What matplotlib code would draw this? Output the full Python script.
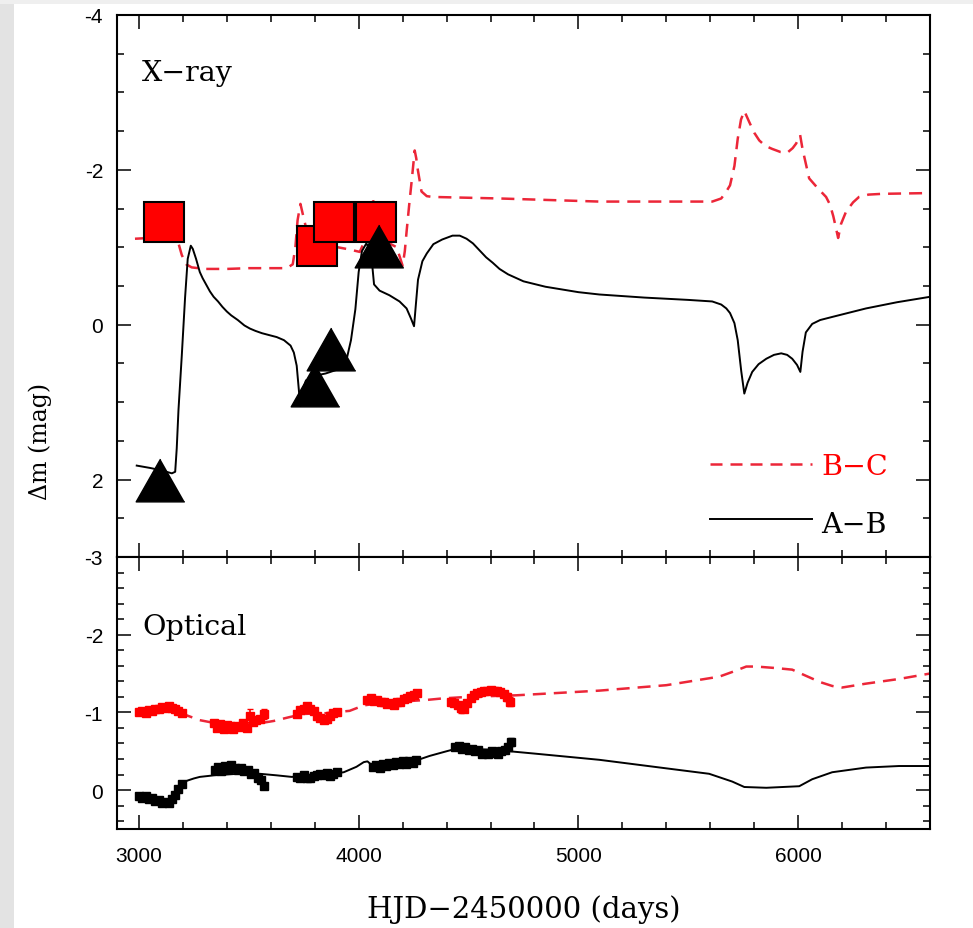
import matplotlib
matplotlib.use("Agg")
import matplotlib.pyplot as plt
from matplotlib.ticker import MultipleLocator
from matplotlib.patches import Rectangle

plt.rcParams['axes.unicode_minus'] = False
plt.rcParams['font.family'] = 'Liberation Sans'

# ---- X-ray panel: model curves (HJD-2450000, delta mag) ----
xr_ab_t = [2990, 3050, 3100, 3150, 3165, 3172, 3180, 3195, 3210, 3222, 3236, 3245,
           3260, 3277, 3290, 3323, 3340, 3360, 3380, 3400, 3420, 3450, 3480, 3505,
           3530, 3560, 3600, 3627, 3660, 3690, 3705, 3718, 3728, 3735, 3745, 3760,
           3800, 3850, 3914, 3945, 3965, 3985, 4000, 4015, 4035, 4055, 4062, 4070,
           4095, 4140, 4186, 4218, 4238, 4252, 4260, 4270, 4290, 4310, 4340, 4380,
           4427, 4460, 4491, 4520, 4550, 4580, 4610, 4641, 4680, 4750, 4850, 5000,
           5095, 5300, 5500, 5609, 5650, 5673, 5690, 5710, 5725, 5741, 5755, 5770,
           5791, 5820, 5855, 5890, 5923, 5950, 5973, 5995, 6010, 6020, 6035, 6064,
           6100, 6155, 6309, 6450, 6600]
xr_ab_m = [1.82, 1.85, 1.88, 1.92, 1.90, 1.60, 1.10, 0.40, -0.35, -0.85, -1.02, -0.98,
           -0.85, -0.68, -0.60, -0.43, -0.36, -0.30, -0.23, -0.17, -0.12, -0.06, 0.01, 0.05,
           0.08, 0.11, 0.14, 0.16, 0.20, 0.27, 0.36, 0.53, 0.85, 1.05, 0.85, 0.72,
           0.66, 0.63, 0.57, 0.45, 0.20, -0.20, -0.68, -0.95, -1.05, -0.95, -0.76, -0.52,
           -0.44, -0.38, -0.30, -0.21, -0.08, 0.02, -0.25, -0.58, -0.82, -0.92, -1.04, -1.10,
           -1.15, -1.15, -1.11, -1.05, -0.96, -0.87, -0.80, -0.72, -0.65, -0.56, -0.49, -0.42,
           -0.39, -0.35, -0.32, -0.30, -0.26, -0.21, -0.15, -0.02, 0.20, 0.60, 0.89, 0.75,
           0.61, 0.51, 0.44, 0.39, 0.37, 0.39, 0.44, 0.52, 0.61, 0.35, 0.10, -0.01,
           -0.06, -0.10, -0.21, -0.29, -0.36]

xr_bc_t = [2982, 3050, 3100, 3130, 3150, 3165, 3180, 3195, 3215, 3240, 3300, 3400,
           3500, 3600, 3673, 3700, 3712, 3722, 3735, 3748, 3765, 3790, 3830, 3905,
           3960, 4005, 4030, 4050, 4064, 4080, 4100, 4140, 4173, 4190, 4200, 4210,
           4218, 4230, 4241, 4255, 4262, 4268, 4286, 4310, 4336, 4641, 5095, 5609,
           5650, 5673, 5690, 5710, 5725, 5740, 5755, 5777, 5800, 5823, 5850, 5882,
           5920, 5950, 5975, 5991, 6009, 6018, 6027, 6050, 6090, 6127, 6145, 6160,
           6172, 6182, 6195, 6218, 6250, 6277, 6320, 6382, 6600]
xr_bc_m = [-1.11, -1.12, -1.20, -1.45, -1.60, -1.45, -1.05, -0.90, -0.78, -0.74, -0.72, -0.72,
           -0.73, -0.73, -0.73, -0.78, -1.00, -1.35, -1.56, -1.40, -1.20, -1.08, -1.02, -1.00,
           -0.97, -0.94, -1.10, -1.45, -1.63, -1.40, -1.15, -1.05, -1.00, -0.85, -0.76, -0.95,
           -1.20, -1.55, -1.85, -2.25, -2.15, -2.02, -1.72, -1.66, -1.65, -1.63, -1.59, -1.59,
           -1.63, -1.72, -1.80, -2.05, -2.40, -2.65, -2.76, -2.62, -2.48, -2.38, -2.31, -2.27,
           -2.23, -2.22, -2.28, -2.34, -2.45, -2.30, -2.18, -1.89, -1.76, -1.65, -1.55, -1.40,
           -1.25, -1.12, -1.30, -1.46, -1.58, -1.65, -1.68, -1.69, -1.70]

# X-ray measurements
sq_t = [3116, 3811, 3889, 4077]
sq_m = [-1.32, -1.01, -1.32, -1.32]
tri_t = [3098, 3800, 3875, 4091]
tri_m = [2.00, 0.78, 0.32, -1.01]

# ---- Optical panel: model curves ----
op_bc_t = [3000, 3100, 3200, 3277, 3350, 3450, 3550, 3614, 3686, 3750, 3850, 3959,
           4023, 4100, 4200, 4309, 4382, 4500, 4718, 5095, 5400, 5641, 5700, 5764,
           5809, 5900, 5973, 6036, 6100, 6155, 6200, 6309, 6459, 6600]
op_bc_m = [-1.00, -1.05, -0.98, -0.90, -0.86, -0.84, -0.86, -0.89, -0.94, -0.98, -0.99, -1.02,
           -1.09, -1.12, -1.14, -1.16, -1.18, -1.20, -1.22, -1.28, -1.35, -1.46, -1.52, -1.59,
           -1.59, -1.57, -1.55, -1.47, -1.39, -1.34, -1.32, -1.37, -1.43, -1.50]

op_ab_t = [3000, 3050, 3100, 3140, 3170, 3200, 3218, 3250, 3277, 3341, 3450, 3550, 3627,
           3695, 3800, 3880, 3932, 3990, 4023, 4040, 4064, 4100, 4186, 4250, 4323,
           4400, 4440, 4500, 4600, 4686, 4800, 5095, 5400, 5595, 5700, 5755, 5855,
           6005, 6064, 6155, 6309, 6459, 6600]
op_ab_m = [0.08, 0.10, 0.13, 0.12, 0.04, -0.07, -0.12, -0.15, -0.17, -0.19, -0.21, -0.21, -0.19,
           -0.17, -0.19, -0.21, -0.23, -0.30, -0.36, -0.37, -0.31, -0.31, -0.33, -0.37, -0.44,
           -0.50, -0.53, -0.53, -0.52, -0.50, -0.47, -0.39, -0.28, -0.21, -0.11, -0.04, -0.03,
           -0.05, -0.14, -0.23, -0.29, -0.31, -0.31]

# Optical light-curve points (B-C)
obs_bc_t = [3000, 3015, 3030, 3045, 3060, 3075, 3090, 3105, 3120, 3135, 3150, 3165, 3180, 3195,
            3340, 3355, 3370, 3385, 3400, 3415, 3430, 3445, 3460, 3475, 3490, 3505, 3520, 3535, 3550, 3570,
            3720, 3735, 3750, 3765, 3780, 3795, 3810, 3825, 3840, 3855, 3870, 3885, 3900,
            4040, 4055, 4070, 4085, 4100, 4115, 4130, 4145, 4160, 4175, 4190, 4205, 4220, 4235, 4250, 4265,
            4420, 4435, 4450, 4465, 4480, 4495, 4510, 4525, 4540, 4555, 4570, 4585, 4600, 4615, 4630, 4645,
            4660, 4675, 4690]
obs_bc_m = [-1.00, -1.02, -0.99, -1.03, -1.02, -1.05, -1.04, -1.07, -1.06, -1.08, -1.06, -1.05, -1.02, -0.99,
            -0.86, -0.80, -0.85, -0.79, -0.84, -0.82, -0.78, -0.83, -0.81, -0.86, -0.80, -0.96, -0.87, -0.90, -0.92, -0.98,
            -0.98, -1.03, -1.05, -1.08, -1.05, -1.02, -0.96, -0.93, -0.90, -0.92, -0.96, -0.99, -1.01,
            -1.16, -1.18, -1.15, -1.16, -1.13, -1.14, -1.11, -1.12, -1.10, -1.13, -1.14, -1.17, -1.18, -1.21, -1.22, -1.25,
            -1.14, -1.12, -1.09, -1.06, -1.04, -1.12, -1.18, -1.22, -1.25, -1.26, -1.28, -1.27, -1.29, -1.28, -1.28, -1.26,
            -1.24, -1.20, -1.14]
obs_bc_e = [0.02, 0.02, 0.02, 0.02, 0.02, 0.02, 0.02, 0.02, 0.02, 0.02, 0.02, 0.03, 0.03, 0.03,
            0.03, 0.03, 0.03, 0.03, 0.03, 0.03, 0.03, 0.03, 0.03, 0.03, 0.03, 0.08, 0.03, 0.03, 0.04, 0.07,
            0.02, 0.02, 0.02, 0.02, 0.02, 0.02, 0.02, 0.03, 0.03, 0.03, 0.03, 0.03, 0.03,
            0.02, 0.02, 0.02, 0.02, 0.02, 0.02, 0.02, 0.02, 0.02, 0.02, 0.02, 0.02, 0.02, 0.02, 0.03, 0.03,
            0.03, 0.03, 0.03, 0.07, 0.03, 0.03, 0.03, 0.03, 0.02, 0.02, 0.02, 0.02, 0.02, 0.02, 0.02, 0.03,
            0.03, 0.05, 0.06]

# Optical light-curve points (A-B)
obs_ab_t = [3000, 3015, 3030, 3045, 3060, 3075, 3090, 3105, 3120, 3135, 3150, 3165, 3180, 3195,
            3345, 3360, 3375, 3390, 3405, 3420, 3435, 3450, 3465, 3480, 3495, 3510, 3525, 3540, 3555, 3570,
            3720, 3735, 3750, 3765, 3780, 3795, 3810, 3825, 3840, 3855, 3870, 3885, 3900,
            4065, 4080, 4095, 4110, 4125, 4140, 4155, 4170, 4185, 4200, 4215, 4230, 4245, 4260,
            4440, 4455, 4470, 4485, 4500, 4515, 4530, 4545, 4560, 4575, 4590, 4605, 4620, 4635, 4650, 4665,
            4680, 4695]
obs_ab_m = [0.08, 0.10, 0.07, 0.11, 0.10, 0.14, 0.13, 0.16, 0.15, 0.16, 0.12, 0.06, -0.02, -0.08,
            -0.26, -0.30, -0.25, -0.31, -0.27, -0.32, -0.28, -0.26, -0.29, -0.24, -0.26, -0.21, -0.22, -0.16, -0.13, -0.05,
            -0.17, -0.15, -0.19, -0.16, -0.15, -0.18, -0.19, -0.21, -0.20, -0.22, -0.18, -0.21, -0.23,
            -0.30, -0.32, -0.29, -0.34, -0.31, -0.35, -0.32, -0.36, -0.33, -0.37, -0.34, -0.38, -0.35, -0.39,
            -0.55, -0.57, -0.53, -0.56, -0.52, -0.53, -0.50, -0.51, -0.47, -0.48, -0.46, -0.50, -0.48, -0.47,
            -0.50, -0.52, -0.55, -0.62]
obs_ab_e = [0.02] * 14 + [0.03] * 16 + [0.02] * 13 + [0.02] * 14 + [0.02] * 16 + [0.03, 0.05]

red = '#ff0000'
dash_red = '#ec2638'
serif = 'DejaVu Serif'

fig = plt.figure(figsize=(9.73, 9.29), dpi=100)

# grey slide border
fig.patches.append(Rectangle((0, 0), 14 / 973, 1, transform=fig.transFigure,
                             facecolor='#e3e3e3', edgecolor='none', zorder=-10))
fig.patches.append(Rectangle((0, 1 - 5 / 929), 1, 5 / 929, transform=fig.transFigure,
                             facecolor='#efefef', edgecolor='none', zorder=-10))

ax1 = fig.add_axes([0.1202, 0.3994, 0.8356, 0.5834])
ax2 = fig.add_axes([0.1202, 0.1066, 0.8356, 0.2928], sharex=ax1)

# X-ray panel
ax1.plot(xr_bc_t, xr_bc_m, color=dash_red, lw=1.8, dashes=(5.2, 3.2), zorder=2)
ax1.plot(xr_ab_t, xr_ab_m, color='black', lw=1.4, zorder=2)
ax1.plot(sq_t, sq_m, 's', ms=29.5, mfc=red, mec='black', mew=1.5, ls='none', zorder=3)
ax1.plot(tri_t, tri_m, marker=[(0, 0.88), (-1, -0.88), (1, -0.88)], ms=35,
         color='black', ls='none', zorder=4)

# legend keys
ax1.plot([0.729, 0.855], [0.172, 0.172], transform=ax1.transAxes, color=dash_red,
         lw=1.8, dashes=(4.8, 3.2))
ax1.plot([0.729, 0.855], [0.070, 0.070], transform=ax1.transAxes, color='black', lw=1.4)
ax1.text(0.866, 0.153, 'B\u2212C', transform=ax1.transAxes, color=red,
         fontsize=20.5, family=serif, va='baseline')
ax1.text(0.866, 0.046, 'A\u2212B', transform=ax1.transAxes, color='black',
         fontsize=20.5, family=serif, va='baseline')
ax1.text(0.031, 0.880, 'X\u2212ray', transform=ax1.transAxes, fontsize=20.5,
         family=serif, va='baseline')

# Optical panel
ax2.plot(op_bc_t, op_bc_m, color=dash_red, lw=1.8, dashes=(5.2, 3.2), zorder=2)
ax2.plot(op_ab_t, op_ab_m, color='black', lw=1.4, zorder=2)
ax2.errorbar(obs_bc_t, obs_bc_m, yerr=obs_bc_e, fmt='s', ms=6, color=red,
             elinewidth=1.2, capsize=2.5, zorder=3)
ax2.errorbar(obs_ab_t, obs_ab_m, yerr=obs_ab_e, fmt='s', ms=6, color='black',
             elinewidth=1.2, capsize=2.5, zorder=3)
ax2.text(0.031, 0.717, 'Optical', transform=ax2.transAxes, fontsize=20.5,
         family=serif, va='baseline')

ax1.set_xlim(2900, 6600)
ax1.set_ylim(3, -4)
ax2.set_ylim(0.5, -3)

ax1.xaxis.set_major_locator(MultipleLocator(1000))
ax1.xaxis.set_minor_locator(MultipleLocator(200))
ax1.yaxis.set_major_locator(MultipleLocator(2))
ax1.yaxis.set_minor_locator(MultipleLocator(0.5))
ax2.yaxis.set_major_locator(MultipleLocator(1))
ax2.yaxis.set_minor_locator(MultipleLocator(0.2))

for ax in (ax1, ax2):
    ax.tick_params(which='both', direction='in', top=True, right=True, width=1.1)
    ax.tick_params(which='major', length=10, labelsize=15, pad=10)
    ax.tick_params(which='minor', length=5)
    ax.tick_params(axis='x', which='major', pad=12)
    for s in ax.spines.values():
        s.set_linewidth(1.5)
ax1.tick_params(labelbottom=False)

fig.text(0.538, 0.0205, 'HJD\u22122450000 (days)', ha='center', va='center',
         fontsize=21, family=serif)
fig.text(0.041, 0.525, '\u0394m (mag)', rotation=90, ha='center', va='center',
         fontsize=17, family=serif)

fig.savefig('out.png', dpi=100)
